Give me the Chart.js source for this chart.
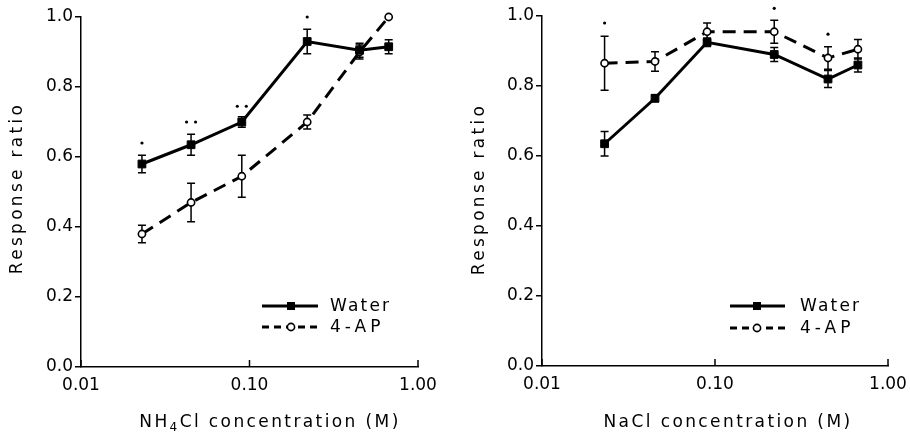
<!doctype html>
<html lang="en">
  <head>
    <meta charset="utf-8">
    <title>Response ratio vs concentration</title>
    <style>
      * { margin: 0; padding: 0; }
      body { background: #fff; width: 910px; height: 436px; position: relative; overflow: hidden; }
      .panel { position: absolute; top: 0; width: 455px; height: 436px; }
      #left { left: 0; }
      #right { left: 455px; }
    </style>
  </head>
  <body>
    <div class="panel" id="left"><canvas id="nh4Chart" width="455" height="436"></canvas></div>
    <div class="panel" id="right"><canvas id="naclChart" width="455" height="436"></canvas></div>
    <script src="https://cdn.jsdelivr.net/npm/chart.js/dist/chart.umd.min.js"></script>
    <script>
    // concentrations (M), shared by both panels
    const conc = [0.023, 0.045, 0.09, 0.22, 0.45, 0.67];
    const xTicks = [0.01, 0.1, 1];

    // NH4Cl
    const nh4Water    = [0.58, 0.635, 0.70, 0.93, 0.905, 0.915];
    const nh4WaterErr = [0.025, 0.03, 0.015, 0.035, 0.02, 0.02];
    const nh4Ap       = [0.38, 0.47, 0.545, 0.70, 0.90, 1.0];
    const nh4ApErr    = [0.025, 0.055, 0.06, 0.02, 0.02, 0];
    const nh4Stars    = [1, 2, 2, 1, 0, 0];
    const nh4StarY    = [0.64, 0.70, 0.745, 1.0, 0, 0];

    // NaCl
    const naclWater    = [0.635, 0.765, 0.925, 0.89, 0.82, 0.86];
    const naclWaterErr = [0.035, 0.01, 0.012, 0.02, 0.024, 0.02];
    const naclAp       = [0.865, 0.87, 0.955, 0.955, 0.88, 0.905];
    const naclApErr    = [0.077, 0.028, 0.025, 0.033, 0.032, 0.028];
    const naclStars    = [1, 0, 0, 1, 1, 0];
    const naclStarY    = [0.98, 0, 0, 1.022, 0.948, 0];

    const FONT = 'DejaVu Sans';

    // error bars, significance dots, inward x ticks, legend and axis titles
    const decor = {
      id: 'decor',
      beforeDatasetsDraw(chart, args, o) {
        const ctx = chart.ctx, xs = chart.scales.x, ys = chart.scales.y;
        ctx.save();
        ctx.strokeStyle = '#000';
        ctx.lineWidth = 1.5;
        [o.waterErr, o.apErr].forEach((errs, d) => {
          const vals = d === 0 ? o.water : o.ap;
          errs.forEach((e, i) => {
            if (!e) return;
            const x = xs.getPixelForValue(conc[i]);
            const y1 = ys.getPixelForValue(vals[i] + e);
            const y2 = ys.getPixelForValue(vals[i] - e);
            ctx.beginPath();
            ctx.moveTo(x, y1); ctx.lineTo(x, y2);
            ctx.moveTo(x - 4, y1); ctx.lineTo(x + 4, y1);
            ctx.moveTo(x - 4, y2); ctx.lineTo(x + 4, y2);
            ctx.stroke();
          });
        });
        ctx.restore();
      },
      afterDraw(chart, args, o) {
        const ctx = chart.ctx, xs = chart.scales.x, ys = chart.scales.y;
        const area = chart.chartArea;
        ctx.save();
        ctx.fillStyle = '#000';
        ctx.strokeStyle = '#000';

        // x ticks point up into the plot
        ctx.lineWidth = 1.5;
        xTicks.forEach(v => {
          const x = xs.getPixelForValue(v);
          ctx.beginPath();
          ctx.moveTo(x, area.bottom);
          ctx.lineTo(x, area.bottom - 7);
          ctx.stroke();
        });

        // significance dots
        o.stars.forEach((n, i) => {
          if (!n) return;
          const x = xs.getPixelForValue(conc[i]);
          const y = ys.getPixelForValue(o.starY[i]);
          const offs = n === 2 ? [-4.5, 4.5] : [0];
          offs.forEach(dx => {
            ctx.beginPath();
            ctx.arc(x + dx, y, 1.6, 0, Math.PI * 2);
            ctx.fill();
          });
        });

        // legend
        const L = o.legend;
        ctx.lineWidth = 3;
        ctx.beginPath();
        ctx.moveTo(L.x0, L.y1); ctx.lineTo(L.x1, L.y1);
        ctx.stroke();
        ctx.fillRect(L.mx - 4, L.y1 - 4, 8, 8);
        ctx.setLineDash([7, 5]);
        ctx.beginPath();
        ctx.moveTo(L.x0, L.y2); ctx.lineTo(L.x1, L.y2);
        ctx.stroke();
        ctx.setLineDash([]);
        ctx.fillStyle = '#fff';
        ctx.beginPath();
        ctx.arc(L.mx, L.y2, 3.6, 0, Math.PI * 2);
        ctx.fill();
        ctx.lineWidth = 1.6;
        ctx.stroke();
        ctx.fillStyle = '#000';
        ctx.font = '17px ' + FONT;
        ctx.textBaseline = 'middle';
        ctx.textAlign = 'left';
        ctx.letterSpacing = '2.2px';
        ctx.fillText('Water', L.tx, L.y1 + 1);
        ctx.letterSpacing = '4px';
        ctx.fillText('4-AP', L.tx, L.y2 + 1);

        // y title
        ctx.save();
        ctx.translate(o.yTitle.x, o.yTitle.y);
        ctx.rotate(-Math.PI / 2);
        ctx.textAlign = 'center';
        ctx.letterSpacing = '3.3px';
        ctx.fillText('Response ratio', 0, 0);
        ctx.restore();

        // x title, with an optional subscript part
        ctx.letterSpacing = '2.4px';
        const parts = o.xTitle.parts;
        const widths = parts.map(p => {
          ctx.font = (p.sub ? '12px ' : '17px ') + FONT;
          return ctx.measureText(p.t).width;
        });
        let x = o.xTitle.x - widths.reduce((a, b) => a + b, 0) / 2;
        parts.forEach((p, i) => {
          ctx.font = (p.sub ? '12px ' : '17px ') + FONT;
          ctx.fillText(p.t, x, o.xTitle.y + (p.sub ? 5 : 0));
          x += widths[i];
        });
        ctx.restore();
      }
    };

    function makePanel(id, o) {
      const tickFont = { family: FONT, size: 17 };
      return new Chart(document.getElementById(id), {
        type: 'line',
        data: {
          datasets: [
            {
              label: 'Water',
              data: conc.map((c, i) => ({ x: c, y: o.water[i] })),
              borderColor: '#000',
              borderWidth: 3,
              pointStyle: 'rect',
              pointRadius: 5.5,
              pointBackgroundColor: '#000',
              pointBorderColor: '#000',
              pointBorderWidth: 1,
              tension: 0,
              clip: false
            },
            {
              label: '4-AP',
              data: conc.map((c, i) => ({ x: c, y: o.ap[i] })),
              borderColor: '#000',
              borderWidth: 3,
              borderDash: [13, 8],
              pointStyle: 'circle',
              pointRadius: 3.6,
              pointBackgroundColor: '#fff',
              pointBorderColor: '#000',
              pointBorderWidth: 1.6,
              tension: 0,
              clip: false
            }
          ]
        },
        options: {
          responsive: false,
          animation: false,
          layout: { padding: o.padding },
          plugins: {
            legend: { display: false },
            tooltip: { enabled: false },
            decor: o
          },
          scales: {
            x: {
              type: 'logarithmic',
              min: 0.01,
              max: 1,
              afterBuildTicks: s => { s.ticks = xTicks.map(v => ({ value: v })); },
              afterFit: s => { s.height = o.xHeight; },
              grid: { display: false },
              border: { display: true, color: '#000', width: 1.5 },
              ticks: {
                color: '#000',
                font: tickFont,
                padding: 0,
                maxRotation: 0,
                autoSkip: false,
                callback: v => Number(v).toFixed(2)
              }
            },
            y: {
              min: 0,
              max: 1,
              afterFit: s => { s.width = o.yWidth; },
              grid: { display: true, drawOnChartArea: false, drawTicks: true, tickLength: 6, color: '#000', lineWidth: 1.5 },
              border: { display: true, color: '#000', width: 1.5 },
              ticks: {
                stepSize: 0.2,
                color: '#000',
                font: tickFont,
                padding: 2,
                callback: v => Number(v).toFixed(1)
              }
            }
          }
        },
        plugins: [decor]
      });
    }

    makePanel('nh4Chart', {
      water: nh4Water, waterErr: nh4WaterErr,
      ap: nh4Ap, apErr: nh4ApErr,
      stars: nh4Stars, starY: nh4StarY,
      padding: { left: 0, top: 17, right: 37, bottom: 0 },
      yWidth: 81, xHeight: 69,
      legend: { x0: 262, x1: 318, mx: 291, tx: 330, y1: 306, y2: 327 },
      yTitle: { x: 18, y: 188 },
      xTitle: { x: 270, y: 423, parts: [{ t: 'NH' }, { t: '4', sub: true }, { t: 'Cl concentration (M)' }] }
    });

    makePanel('naclChart', {
      water: naclWater, waterErr: naclWaterErr,
      ap: naclAp, apErr: naclApErr,
      stars: naclStars, starY: naclStarY,
      padding: { left: 0, top: 16, right: 22, bottom: 0 },
      yWidth: 87, xHeight: 70,
      legend: { x0: 275, x1: 330, mx: 302, tx: 345, y1: 306, y2: 328 },
      yTitle: { x: 25, y: 189 },
      xTitle: { x: 273, y: 423, parts: [{ t: 'NaCl concentration (M)' }] }
    });
    </script>
  </body>
</html>
